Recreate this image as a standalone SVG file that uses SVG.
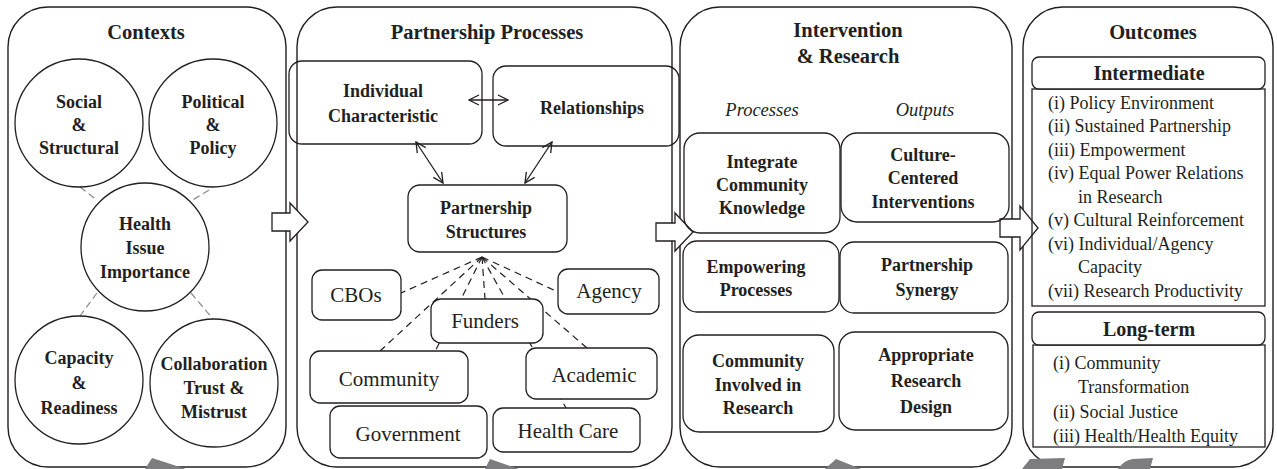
<svg xmlns="http://www.w3.org/2000/svg" width="1277" height="469" viewBox="0 0 1277 469">
<defs>
<style>
text{font-family:'Liberation Serif','Times New Roman','DejaVu Serif',serif;fill:#231f20}
.panel{fill:none;stroke:#231f20;stroke-width:1.4}
.box{fill:none;stroke:#231f20;stroke-width:1.3}
.wbox{fill:#fff;stroke:#231f20;stroke-width:1.3}
.title{font-weight:bold;font-size:20.5px;text-anchor:middle}
.b{font-weight:bold;font-size:18px;text-anchor:middle}
.org{font-size:21px;text-anchor:middle}
.it{font-style:italic;font-size:18.5px;text-anchor:middle}
.li{font-size:18px}
.hd{font-weight:bold;font-size:20px;text-anchor:middle}
.gdash{stroke:#8a8a8a;stroke-width:1.2;stroke-dasharray:7 4;fill:none}
.fan{stroke:#231f20;stroke-width:1.2;stroke-dasharray:7 5;fill:none}
.dbl{stroke:#231f20;stroke-width:1.3;fill:none;marker-start:url(#v);marker-end:url(#v)}
.blk{fill:#fff;stroke:#231f20;stroke-width:1.3;stroke-linejoin:miter}
.gray{fill:#7d7d80;stroke:none}
</style>
<marker id="v" viewBox="0 0 12 12" refX="11" refY="6" markerWidth="12" markerHeight="12" markerUnits="userSpaceOnUse" orient="auto-start-reverse">
<path d="M1,1 L11,6 L1,11" fill="none" stroke="#231f20" stroke-width="1.3"/>
</marker>
</defs>

<g id="panel-contexts">
<rect class="panel" x="8" y="7" width="278" height="460" rx="40" ry="40"/>
<text class="title" x="146" y="39" font-family="Liberation Serif, serif">Contexts</text>
</g>
<g id="panel-partnership">
<rect class="panel" x="297" y="7" width="375" height="460" rx="40" ry="40"/>
<text class="title" x="487" y="39">Partnership Processes</text>
</g>
<g id="panel-intervention">
<rect class="panel" x="680" y="7" width="332" height="460" rx="40" ry="40"/>
<text class="title" x="848" y="37">Intervention</text>
<text class="title" x="848" y="63">&amp; Research</text>
<text class="it" x="762" y="116">Processes</text>
<text class="it" x="925" y="116">Outputs</text>
</g>
<g id="panel-outcomes">
<rect class="panel" x="1023" y="7" width="250" height="460" rx="40" ry="40"/>
<text class="title" x="1153" y="39">Outcomes</text>
</g>

<g id="connectors">
<line class="gdash" x1="80" y1="187" x2="97" y2="200"/>
<line class="gdash" x1="209" y1="190" x2="191" y2="201"/>
<line class="gdash" x1="97" y1="293" x2="80" y2="316"/>
<line class="gdash" x1="191" y1="293" x2="213" y2="319"/>
<line class="fan" x1="482" y1="257" x2="401" y2="293"/>
<line class="fan" x1="482" y1="257" x2="380" y2="351"/>
<line class="fan" x1="482" y1="257" x2="408" y2="406"/>
<line class="fan" x1="482" y1="257" x2="485" y2="299"/>
<line class="fan" x1="482" y1="257" x2="566" y2="408"/>
<line class="fan" x1="482" y1="257" x2="587" y2="348"/>
<line class="fan" x1="482" y1="257" x2="558" y2="292"/>
<line class="dbl" x1="469" y1="100" x2="508" y2="100"/>
<line class="dbl" x1="416" y1="142" x2="443" y2="183"/>
<line class="dbl" x1="552" y1="142" x2="525" y2="183"/>
<path class="blk" d="M272,213 H290 V203 L308,222 L290,241 V231 H272 Z"/>
<path class="blk" d="M656,223 H675 V213 L693,232 L675,251 V241 H656 Z"/>
<path class="blk" d="M1000,219 H1020 V206 L1038,228 L1020,250 V237 H1000 Z"/>
<path class="gray" d="M145,469 L152,458 L186,469 Z"/>
<path class="gray" d="M485,469 L490,459 L519,469 Z"/>
<path class="gray" d="M825,469 L836,459 L861,469 Z"/>
<path class="gray" d="M1022,469 L1030,459 L1065,458 L1062,469 Z"/>
<path class="gray" d="M1118,469 Q1124,460 1133,459 L1153,458 L1150,469 Z"/>
</g>

<g id="social">
<circle class="box" cx="79" cy="123" r="64"/>
<text class="b" x="79" y="108">Social</text>
<text class="b" x="79" y="131">&amp;</text>
<text class="b" x="79" y="154">Structural</text>
</g>
<g id="political">
<circle class="box" cx="213" cy="123" r="64"/>
<text class="b" x="213" y="108">Political</text>
<text class="b" x="213" y="131">&amp;</text>
<text class="b" x="213" y="154">Policy</text>
</g>
<g id="health-issue">
<circle class="box" cx="145" cy="247" r="64"/>
<text class="b" x="145" y="230">Health</text>
<text class="b" x="145" y="254">Issue</text>
<text class="b" x="145" y="278">Importance</text>
</g>
<g id="capacity">
<circle class="box" cx="79" cy="380" r="64"/>
<text class="b" x="79" y="364">Capacity</text>
<text class="b" x="79" y="389">&amp;</text>
<text class="b" x="79" y="414">Readiness</text>
</g>
<g id="collaboration">
<circle class="box" cx="214" cy="383" r="64"/>
<text class="b" x="214" y="370">Collaboration</text>
<text class="b" x="214" y="394">Trust &amp;</text>
<text class="b" x="214" y="418">Mistrust</text>
</g>

<g id="individual">
<rect class="box" x="289" y="61" width="193" height="83" rx="13"/>
<text class="b" x="383" y="97">Individual</text>
<text class="b" x="383" y="122">Characteristic</text>
</g>
<g id="relationships">
<rect class="box" x="493" y="66" width="186" height="80" rx="13"/>
<text class="b" x="592" y="114">Relationships</text>
</g>
<g id="structures">
<rect class="box" x="408" y="185" width="159" height="67" rx="12"/>
<text class="b" x="486" y="214">Partnership</text>
<text class="b" x="486" y="238">Structures</text>
</g>
<g id="cbos">
<rect class="wbox" x="312" y="270" width="89" height="50" rx="10"/>
<text class="org" x="356" y="302">CBOs</text>
</g>
<g id="agency">
<rect class="wbox" x="558" y="269" width="101" height="45" rx="10"/>
<text class="org" x="609" y="298">Agency</text>
</g>
<g id="funders">
<rect class="wbox" x="431" y="299" width="112" height="44" rx="10"/>
<text class="org" x="485" y="328">Funders</text>
</g>
<g id="community">
<rect class="wbox" x="310" y="351" width="158" height="52" rx="10"/>
<text class="org" x="389" y="386">Community</text>
</g>
<g id="academic">
<rect class="wbox" x="526" y="348" width="131" height="51" rx="10"/>
<text class="org" x="594" y="382">Academic</text>
</g>
<g id="government">
<rect class="wbox" x="330" y="406" width="157" height="52" rx="10"/>
<text class="org" x="408" y="441">Government</text>
</g>
<g id="healthcare">
<rect class="wbox" x="493" y="408" width="147" height="44" rx="10"/>
<text class="org" x="568" y="438">Health Care</text>
</g>

<g id="integrate">
<rect class="box" x="684" y="133" width="156" height="100" rx="16"/>
<text class="b" x="762" y="168">Integrate</text>
<text class="b" x="762" y="191">Community</text>
<text class="b" x="762" y="214">Knowledge</text>
</g>
<g id="culture">
<rect class="box" x="841" y="133" width="168" height="89" rx="16"/>
<text class="b" x="923" y="161">Culture-</text>
<text class="b" x="923" y="184">Centered</text>
<text class="b" x="923" y="208">Interventions</text>
</g>
<g id="empowering">
<rect class="box" x="683" y="241" width="156" height="71" rx="14"/>
<text class="b" x="756" y="273">Empowering</text>
<text class="b" x="756" y="296">Processes</text>
</g>
<g id="synergy">
<rect class="box" x="840" y="242" width="168" height="71" rx="14"/>
<text class="b" x="927" y="271">Partnership</text>
<text class="b" x="927" y="296">Synergy</text>
</g>
<g id="involved">
<rect class="box" x="683" y="335" width="151" height="97" rx="16"/>
<text class="b" x="758" y="367">Community</text>
<text class="b" x="758" y="391">Involved in</text>
<text class="b" x="758" y="414">Research</text>
</g>
<g id="design">
<rect class="box" x="839" y="332" width="169" height="98" rx="16"/>
<text class="b" x="926" y="361">Appropriate</text>
<text class="b" x="926" y="387">Research</text>
<text class="b" x="926" y="413">Design</text>
</g>

<g id="intermediate">
<rect class="box" x="1032" y="89" width="233" height="217"/>
<rect class="wbox" x="1032" y="57" width="233" height="32" rx="7"/>
<text class="hd" x="1149" y="80">Intermediate</text>
<text class="li" x="1048" y="109">(i) Policy Environment</text>
<text class="li" x="1048" y="132">(ii) Sustained Partnership</text>
<text class="li" x="1048" y="156">(iii) Empowerment</text>
<text class="li" x="1048" y="179">(iv) Equal Power Relations</text>
<text class="li" x="1078" y="203">in Research</text>
<text class="li" x="1048" y="226">(v) Cultural Reinforcement</text>
<text class="li" x="1048" y="250">(vi) Individual/Agency</text>
<text class="li" x="1078" y="273">Capacity</text>
<text class="li" x="1048" y="297">(vii) Research Productivity</text>
</g>
<g id="longterm">
<rect class="box" x="1033" y="345" width="232" height="102"/>
<rect class="wbox" x="1032" y="312" width="233" height="33" rx="7"/>
<text class="hd" x="1149" y="336">Long-term</text>
<text class="li" x="1053" y="369">(i) Community</text>
<text class="li" x="1078" y="393">Transformation</text>
<text class="li" x="1053" y="418">(ii) Social Justice</text>
<text class="li" x="1053" y="442">(iii) Health/Health Equity</text>
</g>
</svg>
